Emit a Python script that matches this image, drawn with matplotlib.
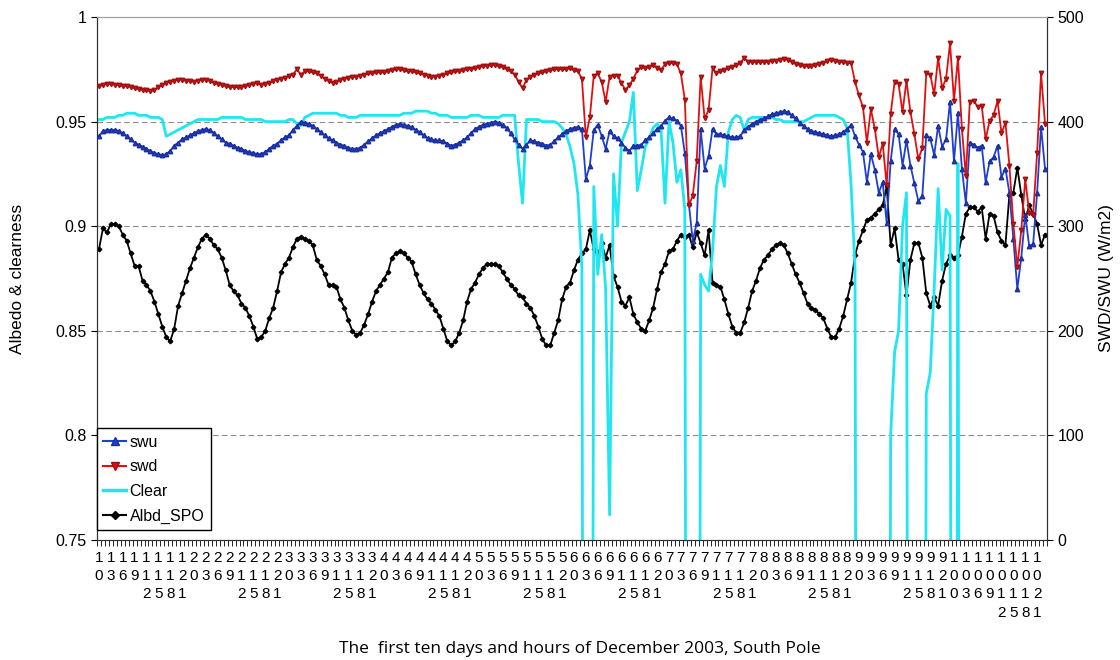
import numpy as np
import matplotlib
matplotlib.use("Agg")
import matplotlib.pyplot as plt
from matplotlib.lines import Line2D

plt.rcParams['font.family'] = ['Liberation Sans', 'DejaVu Sans']

# hourly values, 1-10 December 2003, South Pole
albd_spo = [
    0.889, 0.899, 0.897, 0.901, 0.901, 0.900, 0.896, 0.893, 0.887, 0.881, 0.881, 0.874,
    0.872, 0.869, 0.864, 0.858, 0.852, 0.847, 0.845, 0.851, 0.862, 0.868, 0.874, 0.880,
    0.885, 0.890, 0.894, 0.896, 0.894, 0.891, 0.889, 0.885, 0.879, 0.872, 0.869, 0.867,
    0.863, 0.861, 0.857, 0.852, 0.846, 0.847, 0.850, 0.856, 0.861, 0.869, 0.878, 0.882,
    0.885, 0.890, 0.894, 0.895, 0.894, 0.893, 0.891, 0.884, 0.881, 0.877, 0.872, 0.872,
    0.871, 0.865, 0.861, 0.855, 0.850, 0.848, 0.849, 0.853, 0.858, 0.864, 0.869, 0.872,
    0.875, 0.878, 0.885, 0.887, 0.888, 0.887, 0.885, 0.883, 0.877, 0.872, 0.868, 0.865,
    0.863, 0.860, 0.857, 0.851, 0.845, 0.843, 0.845, 0.849, 0.855, 0.864, 0.870, 0.873,
    0.877, 0.880, 0.882, 0.882, 0.882, 0.881, 0.878, 0.875, 0.872, 0.870, 0.867, 0.866,
    0.863, 0.861, 0.857, 0.852, 0.846, 0.843, 0.843, 0.849, 0.855, 0.865, 0.871, 0.873,
    0.879, 0.884, 0.887, 0.889, 0.898, 0.889, 0.886, 0.892, 0.885, 0.891, 0.876, 0.871,
    0.864, 0.862, 0.866, 0.858, 0.854, 0.851, 0.850, 0.855, 0.861, 0.870, 0.878, 0.882,
    0.888, 0.889, 0.893, 0.896, 0.895, 0.896, 0.890, 0.897, 0.892, 0.886, 0.898, 0.873,
    0.872, 0.871, 0.865, 0.858, 0.852, 0.849, 0.849, 0.854, 0.861, 0.869, 0.874, 0.880,
    0.884, 0.886, 0.889, 0.891, 0.892, 0.891, 0.887, 0.882, 0.877, 0.873, 0.868, 0.863,
    0.861, 0.860, 0.858, 0.856, 0.851, 0.847, 0.847, 0.851, 0.857, 0.865, 0.873, 0.886,
    0.893, 0.898, 0.903, 0.904, 0.906, 0.908, 0.910, 0.919, 0.891, 0.899, 0.884, 0.882,
    0.867, 0.884, 0.892, 0.892, 0.885, 0.868, 0.862, 0.866, 0.862, 0.874, 0.882, 0.886,
    0.885, 0.886, 0.895, 0.906, 0.909, 0.909, 0.907, 0.909, 0.894, 0.906, 0.905, 0.897,
    0.893, 0.891, 0.915, 0.916, 0.928, 0.915, 0.903, 0.910, 0.906, 0.901, 0.891, 0.896,
]

clear = [
    0.951, 0.951, 0.952, 0.952, 0.952, 0.953, 0.953, 0.954, 0.954, 0.954, 0.953, 0.953,
    0.953, 0.952, 0.952, 0.952, 0.951, 0.943, 0.944, 0.945, 0.946, 0.947, 0.948, 0.949,
    0.950, 0.951, 0.951, 0.951, 0.951, 0.951, 0.951, 0.952, 0.952, 0.952, 0.952, 0.952,
    0.952, 0.951, 0.951, 0.951, 0.951, 0.951, 0.950, 0.950, 0.950, 0.950, 0.950, 0.950,
    0.951, 0.951, 0.949, 0.948, 0.952, 0.953, 0.954, 0.954, 0.954, 0.954, 0.954, 0.954,
    0.954, 0.953, 0.953, 0.952, 0.952, 0.952, 0.953, 0.953, 0.953, 0.953, 0.953, 0.953,
    0.953, 0.953, 0.953, 0.953, 0.953, 0.954, 0.954, 0.954, 0.955, 0.955, 0.955, 0.955,
    0.954, 0.954, 0.953, 0.953, 0.953, 0.952, 0.952, 0.952, 0.952, 0.952, 0.953, 0.953,
    0.953, 0.952, 0.952, 0.952, 0.952, 0.952, 0.953, 0.953, 0.953, 0.953, 0.930, 0.911,
    0.951, 0.951, 0.951, 0.951, 0.950, 0.950, 0.950, 0.950, 0.949, 0.947, 0.944, 0.938,
    0.930, 0.915, 0.880, 0.0, 0.0, 0.919, 0.877, 0.896, 0.870, 0.762, 0.925, 0.900,
    0.940, 0.945, 0.950, 0.964, 0.917, 0.927, 0.938, 0.942, 0.947, 0.949, 0.946, 0.911,
    0.950, 0.940, 0.921, 0.927, 0.908, 0.0, 0.0, 0.0, 0.877, 0.872, 0.869, 0.888,
    0.919, 0.929, 0.919, 0.945, 0.951, 0.953, 0.952, 0.946, 0.951, 0.952, 0.952, 0.952,
    0.952, 0.952, 0.952, 0.951, 0.951, 0.950, 0.950, 0.950, 0.950, 0.950, 0.950, 0.951,
    0.952, 0.953, 0.953, 0.953, 0.953, 0.953, 0.953, 0.952, 0.951, 0.947, 0.920, 0.880,
    0.0, 0.0, 0.0, 0.0, 0.0, 0.0, 0.0, 0.0, 0.800, 0.840, 0.850, 0.900,
    0.916, 0.0, 0.0, 0.0, 0.0, 0.820, 0.830, 0.870, 0.918, 0.879, 0.908, 0.905,
    0.0, 0.930, 0.0, 0.0, 0.0, 0.0, 0.0, 0.0, 0.0, 0.0, 0.0, 0.0,
    0.0, 0.0, 0.0, 0.0, 0.0, 0.0, 0.0, 0.0, 0.0, 0.0, 0.0, 0.0,
]

swd = [
    434, 435, 436, 436, 435, 435, 434, 434, 433, 432, 431, 430,
    430, 429, 430, 433, 435, 437, 438, 439, 440, 440, 439, 439,
    438, 439, 440, 440, 439, 437, 436, 435, 434, 433, 433, 433,
    433, 434, 435, 436, 437, 435, 436, 437, 439, 440, 441, 442,
    444, 445, 450, 445, 448, 448, 447, 446, 444, 441, 439, 437,
    438, 440, 441, 442, 443, 443, 444, 445, 446, 446, 447, 447,
    447, 448, 449, 450, 450, 449, 448, 448, 447, 446, 445, 444,
    443, 443, 444, 445, 446, 447, 448, 448, 449, 450, 450, 451,
    452, 453, 453, 454, 454, 453, 452, 450, 448, 445, 438, 432,
    440, 443, 445, 446, 447, 448, 449, 450, 450, 450, 450, 451,
    449, 448, 441, 385, 404, 444, 446, 438, 419, 443, 444, 444,
    437, 430, 435, 441, 449, 452, 451, 452, 454, 451, 449, 455,
    456, 456, 455, 446, 421, 320, 329, 362, 443, 403, 411, 451,
    446, 448, 449, 451, 452, 454, 456, 461, 457, 457, 457, 457,
    457, 457, 458, 458, 459, 460, 459, 457, 455, 454, 453, 453,
    453, 454, 455, 456, 458, 459, 458, 457, 457, 456, 456, 438,
    425, 414, 380, 412, 393, 366, 379, 339, 407, 438, 436, 409,
    439, 409, 388, 364, 375, 446, 445, 426, 461, 432, 441, 475,
    420, 461, 393, 348, 419, 420, 414, 415, 383, 401, 406, 420,
    389, 399, 358, 302, 261, 296, 345, 313, 311, 370, 446, 398,
]

swu = [
    386, 391, 392, 392, 392, 391, 389, 386, 383, 380, 378, 376,
    374, 372, 370, 369, 368, 369, 372, 377, 380, 383, 385, 387,
    389, 391, 392, 393, 392, 389, 386, 383, 380, 379, 377, 375,
    374, 372, 371, 370, 369, 369, 371, 374, 377, 379, 382, 385,
    387, 392, 396, 400, 399, 398, 396, 393, 390, 387, 384, 382,
    380, 378, 377, 375, 374, 374, 375, 378, 381, 384, 387, 389,
    391, 393, 395, 397, 398, 397, 396, 395, 392, 390, 387, 384,
    383, 382, 382, 381, 379, 377, 378, 380, 382, 385, 389, 393,
    395, 397, 398, 399, 400, 399, 397, 394, 389, 383, 378, 374,
    378, 382, 381, 380, 379, 377, 378, 381, 385, 388, 391, 393,
    394, 395, 393, 345, 358, 392, 397, 386, 374, 391, 386, 384,
    380, 375, 372, 377, 377, 378, 382, 385, 389, 393, 396, 401,
    404, 403, 401, 396, 370, 322, 286, 303, 393, 355, 367, 393,
    388, 388, 387, 386, 385, 385, 386, 392, 395, 398, 400, 402,
    403, 405, 407, 408, 409, 410, 409, 406, 403, 399, 396, 393,
    391, 390, 389, 388, 387, 386, 387, 388, 390, 393, 397, 386,
    378, 371, 342, 369, 354, 332, 342, 303, 362, 393, 388, 358,
    382, 358, 341, 324, 329, 387, 384, 368, 396, 376, 383, 419,
    362, 408, 355, 322, 380, 378, 375, 377, 342, 362, 366, 377,
    347, 355, 332, 288, 240, 270, 311, 281, 283, 332, 395, 355,
]

label_days = list(range(1, 11))
label_hours = [0, 3, 6, 9, 12, 15, 18, 21]

n = len(albd_spo)
x = np.arange(n)
tick_labels = ["\n".join(f"{d}{h}") for d in label_days for h in label_hours]

fig = plt.figure(figsize=(11.2, 6.6), dpi=100)
ax = fig.add_axes([97 / 1120, 1 - 540 / 660, 950 / 1120, 523 / 660])
ax2 = ax.twinx()

# left axis: albedo and clearness
ax.plot(x, albd_spo, color='black', lw=1.3, marker='D', ms=2.3, zorder=3)
ax.plot(x, clear, color='#1fe6f0', lw=2.0, zorder=4)
ax.set_ylim(0.75, 1.0)
ax.set_xlim(-0.5, n - 0.5)
ax.set_yticks([0.75, 0.8, 0.85, 0.9, 0.95, 1.0])
ax.set_yticklabels(['0.75', '0.8', '0.85', '0.9', '0.95', '1'])
for g in [0.8, 0.85, 0.9, 0.95]:
    ax.axhline(g, color='#8c8c8c', lw=0.8, ls=(0, (5, 3)), zorder=1)

# right axis: radiation
ax2.plot(x, swu, color='#1f3fd0', lw=1.3, marker='^', ms=3.2, mec='#1a2f9a', zorder=3)
ax2.plot(x, swd, color='#e01010', lw=1.3, marker='v', ms=3.2, mec='#a01010', zorder=3)
ax2.set_ylim(0, 500)
ax2.set_yticks([0, 100, 200, 300, 400, 500])

ax.set_xticks(x[::3])
ax.set_xticklabels(tick_labels, fontsize=11, linespacing=1.38)
ax.set_xticks(np.arange(-0.5, n, 1), minor=True)
ax.tick_params(axis='x', which='major', length=0, pad=8)
ax.tick_params(axis='x', which='minor', length=4, width=0.6, direction='out')
ax.tick_params(axis='y', labelsize=11.5, length=4, direction='out')
ax2.tick_params(axis='y', labelsize=11.5, length=4, direction='out')

for a in (ax, ax2):
    a.spines['top'].set_color('#a0a0a0')
    a.spines['left'].set_color('#303030')
    a.spines['right'].set_color('#303030')
    a.spines['bottom'].set_color('#303030')

ax.set_ylabel('Albedo & clearness', fontsize=12.5, labelpad=22)
ax2.set_ylabel('SWD/SWU (W/m2)', fontsize=12.5, labelpad=11)
fig.text(0.518, 1 - 649 / 660, 'The  first ten days and hours of December 2003, South Pole',
         ha='center', va='center', fontsize=12.5, family=['Open Sans', 'DejaVu Sans'])

handles = [
    Line2D([], [], color='#1f3fd0', lw=1.5, marker='^', ms=6, mec='#1a2f9a'),
    Line2D([], [], color='#e01010', lw=1.5, marker='v', ms=6, mec='#a01010'),
    Line2D([], [], color='#1fe6f0', lw=2.5),
    Line2D([], [], color='black', lw=1.5, marker='D', ms=4),
]
leg = ax2.legend(handles, ['swu', 'swd', 'Clear', 'Albd_SPO'], loc='lower left',
                 bbox_to_anchor=(0, 10 / 523), borderaxespad=0, fontsize=11.5, fancybox=False,
                 edgecolor='black', framealpha=1, handlelength=1.4, handletextpad=0.25,
                 labelspacing=0.6, borderpad=0.4)
leg.get_frame().set_linewidth(1.0)
leg.set_zorder(10)

fig.savefig('out.png', dpi=100)
